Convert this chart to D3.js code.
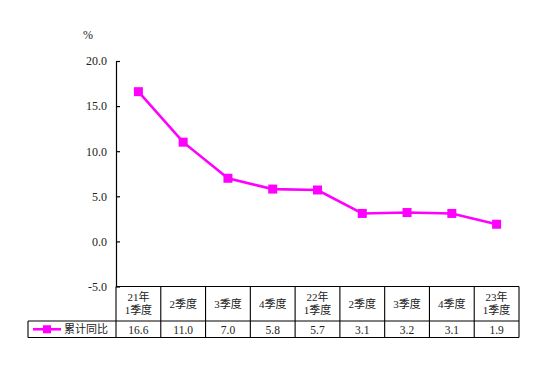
<!DOCTYPE html>
<html><head><meta charset="utf-8">
<script src="https://cdn.jsdelivr.net/npm/d3@7"></script>
<style>
body{margin:0;background:#fff;}
svg{display:block;}
</style></head>
<body>
<svg id="c" width="554" height="382"></svg>
<script>
const categories = ["21年\n1季度","2季度","3季度","4季度","22年\n1季度","2季度","3季度","4季度","23年\n1季度"];
const values = [16.6, 11.0, 7.0, 5.8, 5.7, 3.1, 3.2, 3.1, 1.9];
const valueLabels = ["16.6","11.0","7.0","5.8","5.7","3.1","3.2","3.1","1.9"];
const yTicks = [-5, 0, 5, 10, 15, 20];
const seriesName = "累计同比";
const unit = "%";

const svg = d3.select("#c");
const color = "#ff00ff";
const numFont = "'Liberation Serif','Times New Roman',serif";
const cjkFont = "'Liberation Serif','Noto Sans CJK SC',serif";

const pLeft = 116, pRight = 519, pTop = 61, pBottom = 286.5;
const headerBottom = 321, rowBottom = 337.5, legendLeft = 28;

const x = d3.scaleBand().domain(d3.range(categories.length)).range([pLeft, pRight]).padding(0);
const y = d3.scaleLinear().domain([-5, 20]).range([pBottom, pTop]);

// y axis
const fmt = d3.formatLocale({decimal: ".", thousands: ",", grouping: [3], currency: ["", ""], minus: "-"}).format(".1f");
const yAxis = d3.axisLeft(y).tickValues(yTicks).tickSizeInner(-4).tickSizeOuter(0).tickPadding(9)
  .tickFormat(fmt);
const ga = svg.append("g").attr("transform", `translate(${pLeft},0)`).call(yAxis);
ga.select(".domain").attr("stroke", "#000").attr("stroke-width", 1.2);
ga.selectAll(".tick line").attr("stroke", "#000").attr("stroke-width", 1.2);
ga.selectAll(".tick text").attr("font-family", numFont).attr("font-size", 12).attr("fill", "#222");

svg.append("text").attr("x", 88).attr("y", 39).attr("text-anchor", "middle")
  .attr("font-family", numFont).attr("font-size", 12).attr("fill", "#222").text(unit);

// line
const line = d3.line().x((d, i) => x(i) + x.bandwidth() / 2).y(d => y(d));
svg.append("path").datum(values).attr("d", line).attr("fill", "none")
  .attr("stroke", color).attr("stroke-width", 2.6);
const ms = 9;
svg.selectAll("rect.m").data(values).join("rect").attr("class", "m")
  .attr("x", (d, i) => x(i) + x.bandwidth() / 2 - ms / 2)
  .attr("y", d => y(d) - ms / 2).attr("width", ms).attr("height", ms).attr("fill", color);

// table
const tg = svg.append("g").attr("stroke", "#000").attr("stroke-width", 1.1).attr("fill", "none");
tg.append("line").attr("x1", pLeft).attr("x2", pRight).attr("y1", pBottom).attr("y2", pBottom);
tg.append("line").attr("x1", legendLeft).attr("x2", pRight).attr("y1", headerBottom).attr("y2", headerBottom);
tg.append("line").attr("x1", legendLeft).attr("x2", pRight).attr("y1", rowBottom).attr("y2", rowBottom);
tg.append("line").attr("x1", legendLeft).attr("x2", legendLeft).attr("y1", headerBottom).attr("y2", rowBottom);
tg.append("line").attr("x1", pLeft).attr("x2", pLeft).attr("y1", pBottom).attr("y2", rowBottom);
tg.selectAll("line.v").data(d3.range(categories.length)).join("line").attr("class", "v")
  .attr("x1", i => x(i) + x.bandwidth()).attr("x2", i => x(i) + x.bandwidth())
  .attr("y1", pBottom).attr("y2", rowBottom);

// header text
const hg = svg.append("g").attr("font-family", cjkFont).attr("font-size", 11).attr("fill", "#222")
  .attr("text-anchor", "middle");
categories.forEach((c, i) => {
  const lines = c.split("\n");
  const cx = x(i) + x.bandwidth() / 2;
  const mid = (pBottom + headerBottom) / 2;
  lines.forEach((t, k) => {
    hg.append("text").attr("x", cx)
      .attr("y", mid + (k - (lines.length - 1) / 2) * 13 + 4).text(t);
  });
});

// values row
svg.append("g").attr("font-family", numFont).attr("font-size", 11.5).attr("fill", "#222")
  .attr("text-anchor", "middle")
  .selectAll("text").data(valueLabels).join("text")
  .attr("x", (d, i) => x(i) + x.bandwidth() / 2).attr("y", rowBottom - 4).text(d => d);

// legend
const ly = (headerBottom + rowBottom) / 2;
svg.append("line").attr("x1", 33).attr("x2", 61).attr("y1", ly).attr("y2", ly)
  .attr("stroke", color).attr("stroke-width", 2.6);
svg.append("rect").attr("x", 47 - 4).attr("y", ly - 4).attr("width", 8).attr("height", 8).attr("fill", color);
svg.append("text").attr("x", 64).attr("y", ly + 4).attr("font-family", cjkFont).attr("font-size", 11)
  .attr("fill", "#222").text(seriesName);
</script>
</body></html>
